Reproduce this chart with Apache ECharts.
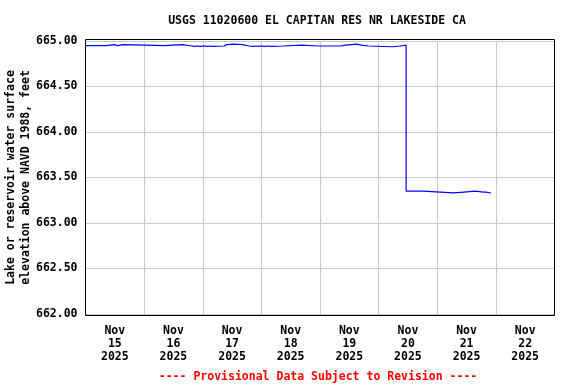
<!DOCTYPE html>
<html>
<head>
<meta charset="utf-8">
<script src="https://cdn.jsdelivr.net/npm/echarts@6/dist/echarts.min.js"></script>
<style>html,body{margin:0;padding:0;background:#fff}#c{width:576px;height:384px}</style>
</head>
<body>
<div id="c"></div>
<script>
var titleText = 'USGS 11020600 EL CAPITAN RES NR LAKESIDE CA';
var footerText = '---- Provisional Data Subject to Revision ----';
var yAxisTitle = 'Lake or reservoir water surface\nelevation above NAVD 1988, feet';
var dayLabels = ['Nov\n15\n2025','Nov\n16\n2025','Nov\n17\n2025','Nov\n18\n2025','Nov\n19\n2025','Nov\n20\n2025','Nov\n21\n2025','Nov\n22\n2025'];
var xStart = '2025-11-15 00:00';
var xEnd = '2025-11-23 00:00';
var yMin = 662, yMax = 665, yStep = 0.5;

var times = [
 '2025-11-15 00:00','2025-11-15 06:15','2025-11-15 06:30','2025-11-15 08:30','2025-11-15 11:45',
 '2025-11-15 13:15','2025-11-15 15:15','2025-11-16 08:15','2025-11-16 15:45','2025-11-16 19:30',
 '2025-11-16 20:30','2025-11-16 21:45','2025-11-16 23:00','2025-11-17 00:30','2025-11-17 02:00',
 '2025-11-17 03:00','2025-11-17 04:00','2025-11-17 08:45','2025-11-17 09:45','2025-11-17 12:45',
 '2025-11-17 16:15','2025-11-17 19:00','2025-11-17 20:00','2025-11-18 00:00','2025-11-18 01:00',
 '2025-11-18 03:00','2025-11-18 04:00','2025-11-18 09:00','2025-11-18 16:30','2025-11-18 23:15',
 '2025-11-18 23:30','2025-11-19 01:00','2025-11-19 01:15','2025-11-19 08:30','2025-11-19 10:30',
 '2025-11-19 15:00','2025-11-19 17:00','2025-11-19 19:45','2025-11-20 05:45','2025-11-20 08:45',
 '2025-11-20 11:15','2025-11-20 18:15','2025-11-21 06:30','2025-11-21 11:00','2025-11-21 15:30',
 '2025-11-21 19:00','2025-11-21 19:15','2025-11-21 20:00','2025-11-21 22:00'
];
var levels = [
 664.950,664.955,664.950,664.960,664.950,
 664.960,664.950,664.960,664.945,664.940,
 664.945,664.940,664.945,664.940,664.945,
 664.940,664.945,664.960,664.965,664.960,
 664.945,664.940,664.945,664.940,664.945,
 664.940,664.945,664.955,664.945,664.940,
 664.945,664.940,664.945,664.955,664.965,
 664.955,664.945,664.937,664.945,664.955,
 663.350,663.330,663.340,663.350,663.340,
 663.330,663.340,663.330,663.330
];

var FONT = '"DejaVu Sans Mono", monospace';
var chart = echarts.init(document.getElementById('c'), null, {renderer:'canvas'});

// Build a step line: value holds until the next reading, then changes vertically.
var seriesData = [];
for (var i = 0; i < times.length; i++) {
  if (i > 0) seriesData.push([times[i], levels[i-1]]);
  seriesData.push([times[i], levels[i]]);
}

chart.setOption({
  animation: false,
  backgroundColor: '#fff',
  title: [
    {text: titleText, left: 312, top: 10, textAlign: 'center',
     textStyle: {fontFamily: FONT, fontSize: 11.5, fontWeight: 'bold', color: '#000'}},
    {text: footerText, left: 313, top: 366, textAlign: 'center',
     textStyle: {fontFamily: FONT, fontSize: 11.5, fontWeight: 'bold', color: '#ff0000'}}
  ],
  grid: {left: 85.5, right: 21.5, top: 41, bottom: 70, containLabel: false},
  xAxis: [
    {type: 'time', min: xStart, max: xEnd, minInterval: 86400000, maxInterval: 86400000,
     axisLine: {show: false}, axisTick: {show: false}, axisLabel: {show: false},
     splitLine: {show: true, lineStyle: {color: '#c8c8c8', width: 1}}},
    {type: 'category', data: dayLabels, boundaryGap: true, position: 'bottom',
     axisLine: {show: false}, axisTick: {show: false}, splitLine: {show: false},
     axisLabel: {margin: 11, lineHeight: 13, fontFamily: FONT, fontSize: 11.5, fontWeight: 'bold', color: '#000', interval: 0}}
  ],
  yAxis: {
    type: 'value', min: yMin, max: yMax, interval: yStep,
    axisLine: {show: false}, axisTick: {show: false},
    axisLabel: {margin: 8, padding: [5, 0, 0, 0], fontFamily: FONT, fontSize: 11.5, fontWeight: 'bold', color: '#000',
      formatter: function(v){ return v.toFixed(2); }},
    splitLine: {show: true, lineStyle: {color: '#c8c8c8', width: 1}}
  },
  graphic: [
    {type: 'rect', shape: {x: 85.5, y: 39.5, width: 469, height: 276},
     style: {fill: null, stroke: '#000', lineWidth: 1}, z: 100},
    {type: 'text', x: 19, y: 177.5, rotation: Math.PI/2,
     style: {text: yAxisTitle, fontFamily: FONT, fontSize: 11.5, fontWeight: 'bold', fill: '#000',
       align: 'center', verticalAlign: 'middle', lineHeight: 15}}
  ],
  series: [{
    type: 'line', xAxisIndex: 0, showSymbol: false, symbol: 'none',
    data: seriesData, lineStyle: {color: '#0000ff', width: 1.2}, z: 10
  }]
});
</script>
</body>
</html>
